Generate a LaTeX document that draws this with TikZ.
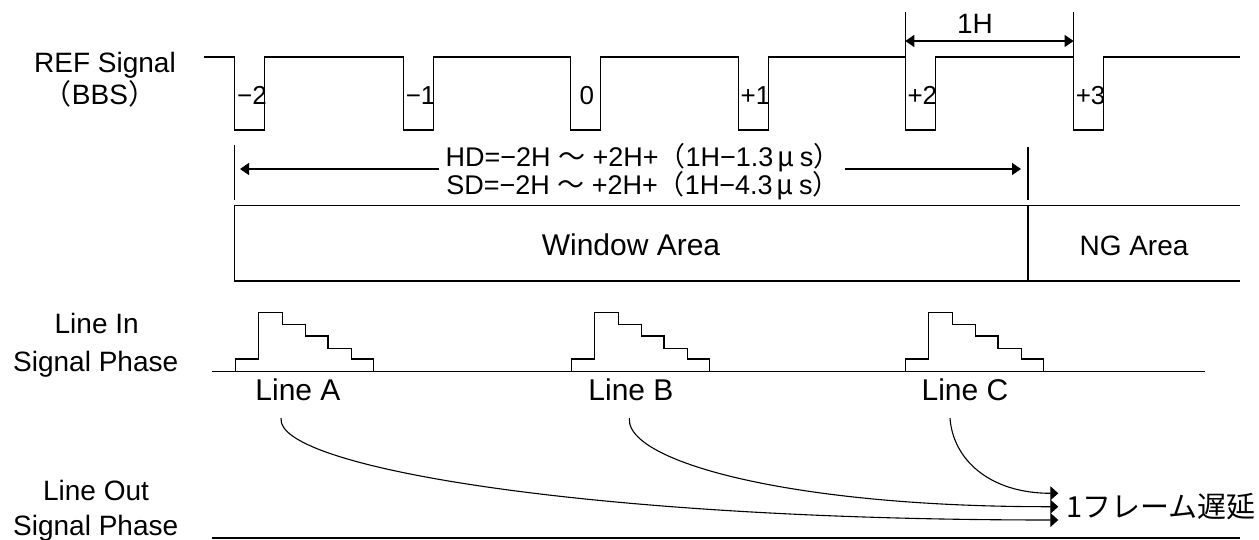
\documentclass[tikz,border=0pt]{standalone}
\usepackage{fontspec}
\setmainfont{Liberation Sans}
\newfontfamily\jp{Noto Sans CJK JP}
\usetikzlibrary{arrows.meta}
\newcommand{\mus}{\hspace{0.15em}{\jp μ}\hspace{0.2em}s}
\begin{document}
\begin{tikzpicture}[x=1pt,y=-1pt,
  lbl/.style={font=\fontsize{28}{34}\selectfont, inner sep=0pt, anchor=base},
  biglbl/.style={font=\fontsize{30}{34}\selectfont, inner sep=0pt, anchor=base},
  plbl/.style={font=\fontsize{26}{30}\selectfont, inner sep=0pt, anchor=base west},
  dimtxt/.style={font=\fontsize{27}{32}\selectfont, inner sep=0pt, anchor=base},
  sig/.style={line width=1.3pt, line join=miter},
  boxline/.style={line width=1.6pt},
  dimtip/.style={-{Triangle[length=9pt,width=12pt]}},
  curvetip/.style={-{Triangle[length=8pt,width=14pt]}, line width=1.1pt}
]
\useasboundingbox (0,0) rectangle (1259,540);

% ---- left labels
\node[lbl] (ref1) at (105,73) {REF Signal};
\node[lbl] (ref2) at (100,105) {{\jp（}BBS{\jp）}};
\node[lbl] (in1) at (96.7,333) {Line In};
\node[lbl] (in2) at (95.7,371) {Signal Phase};
\node[lbl] (out1) at (96,500) {Line Out};
\node[lbl] (out2) at (95.7,535) {Signal Phase};

% ---- REF signal
\draw[sig] (204,57)
  \foreach \x in {234.6,403.2,570.7,738.5,905.3,1073.6} { -- (\x,57) -- (\x,130) -- (\x+30,130) -- (\x+30,57) }
  -- (1240,57);
\node[plbl] (pm2) at (237,105) {−2};
\node[plbl] (pm1) at (405.6,105) {−1};
\node[plbl] (p0)  at (579.5,105) {0};
\node[plbl] (pp1) at (740.5,105) {+1};
\node[plbl] (pp2) at (907.3,105) {+2};
\node[plbl] (pp3) at (1075.6,105) {+3};

% ---- 1H dimension
\draw[sig] (905.3,12) -- (905.3,57);
\draw[sig] (1073.6,12) -- (1073.6,57);
\coordinate (h1a) at (905.3,41);
\coordinate (h1b) at (1073.6,41);
\draw[sig, {Triangle[length=9pt,width=12pt]}-{Triangle[length=9pt,width=12pt]}] (h1a) -- (h1b);
\node[font=\fontsize{28}{32}\selectfont, inner sep=0pt, anchor=base] (oneh) at (975,34) {1H};

% ---- HD / SD dimension
\draw[sig] (234.6,145) -- (234.6,200);
\draw[sig] (1028,147) -- (1028,200);
\coordinate (wl) at (240,169);
\coordinate (wr) at (1021,169);
\node[dimtxt] (hd) at (643,167) {HD=−2H {\jp ～} +2H+{\jp（}1H−1.3\mus{\jp）}};
\node[dimtxt] (sd) at (643,195) {SD=−2H {\jp ～} +2H+{\jp（}1H−4.3\mus{\jp）}};
\draw[sig, {Triangle[length=9pt,width=12pt]}-] (wl) -- ([xshift=-6pt]hd.west |- wl);
\draw[sig, dimtip] ([xshift=4pt]hd.east |- wl) -- (wr);

% ---- Window / NG area
\draw[boxline] (234.6,205.7) rectangle (1028,281);
\draw[boxline] (1028,205.7) -- (1240,205.7);
\draw[boxline] (1028,281) -- (1240,281);
\node[biglbl] (win) at (631,256) {Window Area};
\node[lbl] (ng) at (1134,256) {NG Area};

% ---- Line In
\draw[sig] (211.7,371.7) -- (1205,371.7);
\foreach \x in {235.7,571.7,905.7} {
  \draw[sig] (\x,371.7) -- (\x,359) -- (\x+22.6,359) -- (\x+22.6,312.3) -- (\x+46.6,312.3)
    -- (\x+46.6,324.3) -- (\x+70,324.3) -- (\x+70,336) -- (\x+92.3,336) -- (\x+92.3,348.7)
    -- (\x+116,348.7) -- (\x+116,359) -- (\x+137.6,359) -- (\x+137.6,371.7);
}
\node[biglbl] (la) at (298,400) {Line A};
\node[biglbl] (lb) at (631,400) {Line B};
\node[biglbl] (lc) at (965,400) {Line C};

% ---- Line Out
\draw[boxline] (212,538) -- (1240,538);
\coordinate (sA) at (281,418);
\coordinate (sB) at (629.3,418);
\coordinate (sC) at (950,418);
\coordinate (eA) at (1058.3,520);
\coordinate (eB) at (1058.3,506.7);
\coordinate (eC) at (1058.3,493.3);
\draw[curvetip] (sA) -- ++(0.5,5) .. controls (295,470) and (600,520) .. (eA);
\draw[curvetip] (sB) -- ++(0.5,6) .. controls (640,465) and (800,507) .. (eB);
\draw[curvetip] (sC) .. controls (953,460) and (990,493.3) .. (eC);
\node[font=\jp\fontsize{29}{34}\selectfont, inner sep=0pt, anchor=west] (delay) at (1066,506.5) {1フレーム遅延};
\end{tikzpicture}
\end{document}
